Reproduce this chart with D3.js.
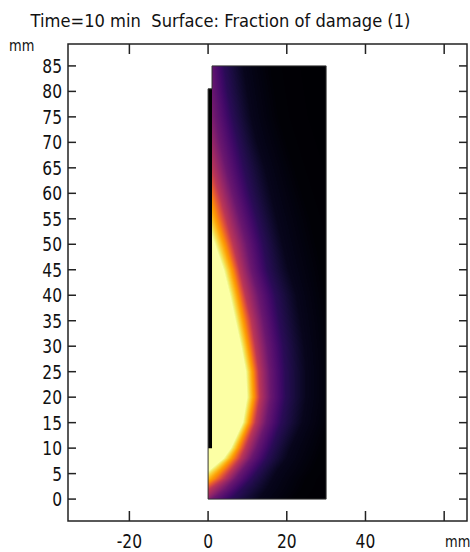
<!DOCTYPE html>
<html><head><meta charset="utf-8">
<script src="https://cdn.jsdelivr.net/npm/d3@7"></script>
<style>body{margin:0;background:#fff}svg{display:block}text{font-family:"DejaVu Sans",sans-serif;fill:#111;white-space:pre}</style>
</head><body>
<svg id="chart" width="470" height="552"></svg>
<script>
// ---------------- data ----------------
const titleText = "Time=10 min  Surface: Fraction of damage (1)";
const unitText = "mm";
const xTickValues = [-20, 0, 20, 40, 60];
const xTickLabels = ["-20", "0", "20", "40", ""];
const yTickValues = [0, 5, 10, 15, 20, 25, 30, 35, 40, 45, 50, 55, 60, 65, 70, 75, 80, 85];
const yTickLabels = ["0", "5", "10", "15", "20", "25", "30", "35", "40", "45", "50", "55", "60", "65", "70", "75", "80", "85"];
const xDomain = [-35.6, 65.8];
const yDomain = [-4.3, 89.3];

// geometry (mm)
const coloredDomain = [[1, 0], [30, 0], [30, 85], [1, 85]];
const coloredFoot = [[0, 0], [1, 0], [1, 10], [0, 10]];
const blackStrip = [[0, 10], [1, 10], [1, 80.5], [0, 80.5]];
const outline = [[0, 0], [30, 0], [30, 85], [1, 85], [1, 80.5], [0, 80.5]];

// damage contours: x position (mm) of each level per row y (mm)
const yRows = [0, 2, 4, 6, 8, 10, 15, 20, 25, 30, 35, 40, 45, 50, 55, 60, 65, 70, 75, 80, 85];
const levels = [0.97, 0.75, 0.5, 0.3, 0.15, 0.05, 0.01, 0];
const c97 = [-9, -6, -2, 1.2, 4.2, 6.0, 9.0, 10.1, 9.8, 8.6, 7.2, 5.8, 4.2, 2.0, -0.3, -2.5, -4.5, -6.5, -8, -8.5, -9];
const c75 = [-5.5, -2.5, 1.5, 4.0, 6.3, 7.8, 10.6, 11.8, 11.5, 10.4, 9.2, 7.8, 6.3, 4.4, 2.3, 0.5, -1.5, -3.5, -5, -5.5, -6];
const c50 = [-2, 0.5, 4.2, 6.3, 8.3, 9.5, 12.1, 13.2, 12.9, 12, 11, 9.5, 8, 6.4, 4.6, 2.8, 1, -0.5, -2, -2.5, -3];
const c30 = [1, 4.5, 7, 9, 11, 12.3, 14.8, 15.9, 15.7, 15, 14, 12.8, 11, 9.8, 8, 6.2, 4.5, 3, 1.8, 1, 0.5];
const c15 = [6, 8.5, 11, 13, 14.8, 16, 18.5, 19.6, 19.5, 19, 18, 17, 15, 13.9, 12.3, 10.5, 9, 7.5, 6, 4.8, 4];
const c05 = [13, 15, 16.5, 18, 20, 21, 24, 25, 25, 24.5, 23.5, 22.5, 20.5, 19, 17.5, 16, 14.5, 12.5, 11, 10, 9];
const c01 = [22, 24, 25, 27, 28, 29, 31, 32, 32, 31.5, 31, 30, 29, 27.5, 26, 24, 22, 20, 18, 17, 16];
const c00 = [34, 36, 37, 39, 40, 41, 43, 44, 44, 43.5, 43, 42, 41, 39.5, 38, 36, 34, 32, 30, 29, 28];
const contourRows = [c97, c75, c50, c30, c15, c05, c01, c00];

// ---------------- layout ----------------
const frame = {left: 68, top: 44, right: 467, bottom: 521};
const sx = d3.scaleLinear().domain(xDomain).range([frame.left, frame.right]);
const sy = d3.scaleLinear().domain(yDomain).range([frame.bottom, frame.top]);
const svg = d3.select("#chart");

// ---------------- field ----------------
function posAt(arr, y) {
  if (y <= yRows[0]) return arr[0];
  if (y >= yRows[yRows.length - 1]) return arr[arr.length - 1];
  const i = d3.bisectRight(yRows, y) - 1;
  const t = (y - yRows[i]) / (yRows[i + 1] - yRows[i]);
  return arr[i] + t * (arr[i + 1] - arr[i]);
}
function valueAt(x, y) {
  const ps = contourRows.map(a => posAt(a, y));
  if (x <= ps[0]) {
    const slope = (levels[0] - levels[1]) / (ps[1] - ps[0]);
    return Math.min(1, levels[0] + (ps[0] - x) * slope);
  }
  for (let i = 0; i < ps.length - 1; i++) {
    if (x <= ps[i + 1]) {
      const t = (x - ps[i]) / (ps[i + 1] - ps[i]);
      return levels[i] + t * (levels[i + 1] - levels[i]);
    }
  }
  return 0;
}
function inside(poly, x, y) {
  const xs = poly.map(p => p[0]), ys = poly.map(p => p[1]);
  return x >= d3.min(xs) && x <= d3.max(xs) && y >= d3.min(ys) && y <= d3.max(ys);
}

const px0 = Math.floor(sx(0)), px1 = Math.ceil(sx(30));
const py0 = Math.floor(sy(85)), py1 = Math.ceil(sy(0));
const W = px1 - px0, H = py1 - py0;
const canvas = document.createElement("canvas");
canvas.width = W; canvas.height = H;
const ctx = canvas.getContext("2d");
const img = ctx.createImageData(W, H);
for (let j = 0; j < H; j++) {
  for (let i = 0; i < W; i++) {
    const X = sx.invert(px0 + i + 0.5), Y = sy.invert(py0 + j + 0.5);
    if (!(inside(coloredDomain, X, Y) || inside(coloredFoot, X, Y))) continue;
    const c = d3.rgb(d3.interpolateInferno(Math.max(0, Math.min(1, valueAt(X, Y)))));
    const k = (j * W + i) * 4;
    img.data[k] = c.r; img.data[k + 1] = c.g; img.data[k + 2] = c.b; img.data[k + 3] = 255;
  }
}
ctx.putImageData(img, 0, 0);
svg.append("image").attr("x", px0).attr("y", py0).attr("width", W).attr("height", H)
  .attr("href", canvas.toDataURL());

const line = d3.line().x(d => sx(d[0])).y(d => sy(d[1]));
svg.append("path").attr("d", line(blackStrip) + "Z").attr("fill", "#000");
svg.append("path").attr("d", line(outline) + "Z").attr("fill", "none").attr("stroke", "#333").attr("stroke-width", 1);

// ---------------- frame & axes ----------------
svg.append("rect").attr("x", frame.left).attr("y", frame.top)
  .attr("width", frame.right - frame.left).attr("height", frame.bottom - frame.top)
  .attr("fill", "none").attr("stroke", "#222").attr("stroke-width", 1.5);

const tickG = svg.append("g").attr("stroke", "#222").attr("stroke-width", 1.5);
xTickValues.forEach(v => {
  tickG.append("line").attr("x1", sx(v)).attr("x2", sx(v)).attr("y1", frame.bottom).attr("y2", frame.bottom - 10);
  tickG.append("line").attr("x1", sx(v)).attr("x2", sx(v)).attr("y1", frame.top).attr("y2", frame.top + 10);
});
yTickValues.forEach(v => {
  tickG.append("line").attr("x1", frame.left).attr("x2", frame.left + 8).attr("y1", sy(v)).attr("y2", sy(v));
  tickG.append("line").attr("x1", frame.right).attr("x2", frame.right - 8).attr("y1", sy(v)).attr("y2", sy(v));
});

const stretch = 1.25;
yTickValues.forEach((v, i) => {
  svg.append("text").attr("transform", `translate(62,${sy(v)}) scale(1,${stretch})`)
    .attr("text-anchor", "end").attr("dy", "0.36em").attr("font-size", 15.5).text(yTickLabels[i]);
});
xTickValues.forEach((v, i) => {
  svg.append("text").attr("transform", `translate(${sx(v)},547.5) scale(1,${stretch})`)
    .attr("text-anchor", "middle").attr("font-size", 15.5).text(xTickLabels[i]);
});
svg.append("text").attr("transform", `translate(445,546.5) scale(1,${stretch})`)
  .attr("font-size", 13).text(unitText);
svg.append("text").attr("transform", `translate(9,50.5) scale(1,${stretch})`)
  .attr("font-size", 13).text(unitText);
svg.append("text").attr("transform", `translate(30.5,27) scale(1,1.15)`)
  .attr("font-size", 16).attr("textLength", 380).attr("lengthAdjust", "spacingAndGlyphs").text(titleText);
</script>
</body></html>
